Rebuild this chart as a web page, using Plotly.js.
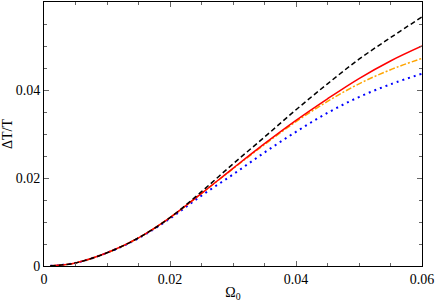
<!DOCTYPE html>
<html>
<head>
<meta charset="utf-8">
<script src="https://cdn.plot.ly/plotly-3.0.1.min.js"></script>
<style>html,body{margin:0;padding:0;background:#fff;}#chart{width:436px;height:302px;}</style>
</head>
<body>
<div id="chart"></div>
<script>
// Omega_0 sample positions
const omega = [0.001, 0.005, 0.01, 0.015, 0.02, 0.025, 0.03, 0.035, 0.04, 0.045, 0.05, 0.055, 0.06];
// Delta T / T for each curve
const blackDashed   = [0.00003, 0.0007, 0.0030, 0.0064, 0.0110, 0.0169, 0.0232, 0.0293, 0.0355, 0.0414, 0.0470, 0.0519, 0.0566];
const redSolid      = [0.00003, 0.0007, 0.0030, 0.0064, 0.0110, 0.0165, 0.0222, 0.0278, 0.0331, 0.0380, 0.0426, 0.0466, 0.0500];
const orangeDashDot = [0.00003, 0.0007, 0.0030, 0.0064, 0.0110, 0.0165, 0.0221, 0.0276, 0.0328, 0.0374, 0.0414, 0.0446, 0.0472];
const blueDotted    = [0.00003, 0.0007, 0.0030, 0.0063, 0.0108, 0.0160, 0.0208, 0.0258, 0.0305, 0.0348, 0.0384, 0.0413, 0.0437];

const xTicks = [0, 0.02, 0.04, 0.06];
const xTickText = ["0", "0.02", "0.04", "0.06"];
const yTicks = [0, 0.02, 0.04];
const yTickText = ["0", "0.02", "0.04"];

const mk = (y, color, dash, width) => ({
  x: omega, y: y, type: 'scatter', mode: 'lines',
  line: {color: color, dash: dash, width: width, shape: 'spline', smoothing: 1},
  hoverinfo: 'skip', showlegend: false
});

const data = [
  mk(blueDotted, '#0000ff', '2px,4px', 2),
  mk(orangeDashDot, '#ffa500', '6px,2px,2px,2px', 1.5),
  mk(redSolid, '#ff0000', 'solid', 1.5),
  mk(blackDashed, '#000000', '5px,3px', 1.5)
];

const font = {family: '"Liberation Serif", "Times New Roman", serif', size: 14, color: '#000'};

const axisBase = {
  showgrid: false, zeroline: false, showline: true, linecolor: '#000', linewidth: 1,
  mirror: 'allticks', ticks: 'inside', ticklen: 5, tickcolor: '#666', tickwidth: 1,
  tickmode: 'array', tickfont: font,
  minor: {tickmode: 'linear', tick0: 0, dtick: 0.005, ticks: 'inside', ticklen: 3, tickcolor: '#666', tickwidth: 1, showgrid: false}
};

const layout = {
  width: 436, height: 302,
  margin: {l: 44, r: 14, t: 2, b: 36},
  paper_bgcolor: '#fff', plot_bgcolor: '#fff',
  font: font,
  xaxis: Object.assign({}, axisBase, {
    range: [0, 0.06], tickvals: xTicks, ticktext: xTickText,
    title: {text: 'Ω<sub>0</sub>', font: font, standoff: 2}
  }),
  yaxis: Object.assign({}, axisBase, {
    range: [0, 0.06], tickvals: yTicks, ticktext: yTickText,
    title: {text: 'ΔT/T', font: font, standoff: 6}
  })
};

Plotly.newPlot('chart', data, layout, {staticPlot: true, displayModeBar: false});
</script>
</body>
</html>
